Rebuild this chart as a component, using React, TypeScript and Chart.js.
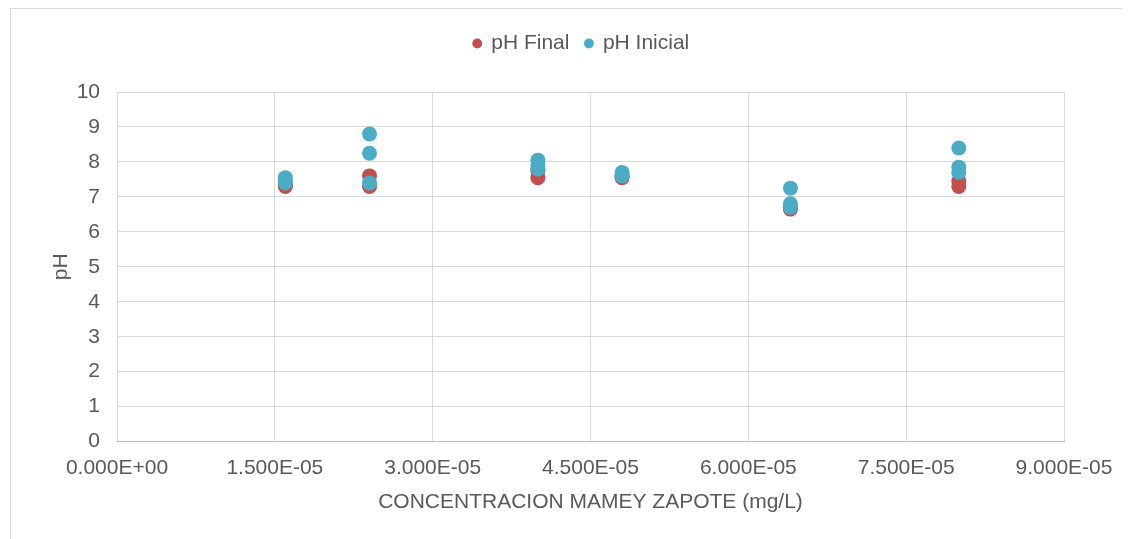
import React, { useEffect, useRef } from "react";
import { Chart, registerables } from "chart.js";

Chart.register(...registerables);

const seriesNames = ["pH Final", "pH Inicial"];
const finalX = [1.6e-5, 1.6e-5, 2.4e-5, 2.4e-5, 4.0e-5, 4.0e-5, 4.8e-5, 4.8e-5, 6.4e-5, 6.4e-5, 8.0e-5, 8.0e-5];
const finalY = [7.3, 7.35, 7.6, 7.3, 7.55, 7.75, 7.55, 7.6, 6.65, 6.7, 7.3, 7.45];
const inicialX = [1.6e-5, 1.6e-5, 1.6e-5, 2.4e-5, 2.4e-5, 2.4e-5, 4.0e-5, 4.0e-5, 4.0e-5, 4.8e-5, 4.8e-5, 6.4e-5, 6.4e-5, 6.4e-5, 8.0e-5, 8.0e-5, 8.0e-5];
const inicialY = [7.55, 7.45, 7.4, 8.8, 8.25, 7.4, 8.05, 7.9, 7.8, 7.7, 7.6, 7.25, 6.8, 6.7, 8.4, 7.85, 7.7];
const xTickValues = [0, 1.5e-5, 3.0e-5, 4.5e-5, 6.0e-5, 7.5e-5, 9.0e-5];
const xTickLabels = ["0.000E+00", "1.500E-05", "3.000E-05", "4.500E-05", "6.000E-05", "7.500E-05", "9.000E-05"];
const yTickValues = [0, 1, 2, 3, 4, 5, 6, 7, 8, 9, 10];
const xTitle = "CONCENTRACION MAMEY ZAPOTE (mg/L)";
const yTitle = "pH";

const FONT = "'Liberation Sans', Arial, sans-serif";
const SIZE = 21;
const TEXT = "#595959";
const GRID = "#d9d9d9";

export default function App() {
  const ref = useRef<HTMLCanvasElement>(null);

  useEffect(() => {
    if (!ref.current) return;
    const legendTweak = {
      id: "legendTweak",
      beforeInit(chart: any) {
        const legend = chart.legend;
        const origFit = legend.fit;
        legend.fit = function () {
          origFit.call(this);
          this.height += 28;
        };
        const origDraw = legend.draw;
        legend.draw = function () {
          this.left += 25;
          this.right += 25;
          origDraw.call(this);
          this.left -= 25;
          this.right -= 25;
        };
      },
    };
    const chart = new Chart(ref.current, {
      type: "scatter",
      data: {
        datasets: [
          {
            label: seriesNames[0],
            data: finalX.map((x, i) => ({ x, y: finalY[i] })),
            backgroundColor: "#C0504D",
            borderColor: "#C0504D",
            borderWidth: 0,
            pointRadius: 7.5,
            order: 1,
          },
          {
            label: seriesNames[1],
            data: inicialX.map((x, i) => ({ x, y: inicialY[i] })),
            backgroundColor: "#4BACC6",
            borderColor: "#4BACC6",
            borderWidth: 0,
            pointRadius: 7.5,
            order: 0,
          },
        ],
      },
      plugins: [legendTweak],
      options: {
        animation: false,
        responsive: true,
        maintainAspectRatio: false,
        layout: { padding: { top: 8, left: 38, right: 67, bottom: 24 } },
        plugins: {
          legend: {
            position: "top",
            align: "center",
            labels: {
              usePointStyle: true,
              pointStyle: "circle",
              boxWidth: 7,
              boxHeight: 7,
              padding: 16,
              color: TEXT,
              font: { family: FONT, size: SIZE },
              sort: (a: any, b: any) => a.datasetIndex - b.datasetIndex,
            },
          },
          tooltip: { enabled: false },
        },
        scales: {
          x: {
            type: "linear",
            min: 0,
            max: 9e-5,
            afterBuildTicks(scale: any) {
              scale.ticks = xTickValues.map((v) => ({ value: v }));
            },
            afterFit(scale: any) {
              scale.height = scale.height - 5;
            },
            ticks: {
              color: TEXT,
              font: { family: FONT, size: SIZE },
              padding: 14,
              maxRotation: 0,
              callback: (_v: any, i: number) => xTickLabels[i],
            },
            grid: { color: GRID, lineWidth: 1, drawTicks: false },
            border: { color: "#bfbfbf", width: 1 },
            title: {
              display: true,
              text: xTitle,
              color: TEXT,
              font: { family: FONT, size: SIZE },
              padding: { top: 0, bottom: 0 },
            },
          },
          y: {
            type: "linear",
            min: 0,
            max: 10,
            afterBuildTicks(scale: any) {
              scale.ticks = yTickValues.map((v) => ({ value: v }));
            },
            afterFit(scale: any) {
              scale.width = 68;
            },
            ticks: {
              color: TEXT,
              font: { family: FONT, size: SIZE },
              padding: 17,
            },
            grid: { color: GRID, lineWidth: 1, drawTicks: false },
            border: { display: false },
            title: {
              display: true,
              text: yTitle,
              color: TEXT,
              font: { family: FONT, size: SIZE },
              padding: { top: 0, bottom: 0 },
            },
          },
        },
      },
    });
    return () => chart.destroy();
  }, []);

  return (
    <div
      style={{
        marginLeft: 2,
        width: 1121,
        height: 531,
        borderTop: "1px solid #d9d9d9",
        borderLeft: "1px solid #d9d9d9",
        boxSizing: "border-box",
        position: "relative",
        background: "#fff",
      }}
    >
      <canvas ref={ref} />
    </div>
  );
}
